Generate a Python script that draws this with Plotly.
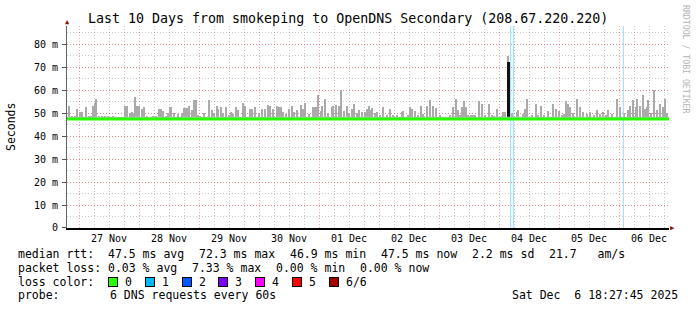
import numpy as np
import pandas as pd
import plotly.graph_objects as go

# ---------------- data ----------------
window_start = pd.Timestamp("2025-11-26 19:12")
step_minutes = 24          # one RRD step (24 min)
n_steps = 602              # 10 days window

median_rtt = 47.5          # ms, median line (loss 0)

# smoke (max of pings) samples: step index from window start, value in ms
smoke_step = [2, 5, 8, 10, 13, 15, 19, 22, 24, 26, 28, 29, 32, 35, 38, 41, 43, 46, 49, 52,
              55, 58, 60, 63, 65, 67, 68, 70, 72, 75, 77, 80, 83, 86, 89, 92, 94, 96, 99, 101,
              103, 104, 107, 111, 115, 117, 118, 120, 122, 125, 127, 129, 131, 133, 137, 142,
              145, 147, 150, 151, 154, 156, 159, 162, 164, 166, 169, 171, 176, 178, 183, 185,
              188, 192, 195, 198,
              201, 203, 206, 210, 211, 213, 214, 216, 219, 222, 225, 227, 230, 234, 236, 238,
              242, 246, 247, 249, 251, 254, 255, 258, 261, 265, 266, 269, 272, 274, 277, 280,
              282, 285, 287, 290, 292, 295, 298, 300,
              302, 304, 305, 308, 310, 313, 316, 320, 323, 326, 330, 335, 336, 341, 343, 345,
              348, 351, 354, 356, 360, 363, 366, 369, 373, 378, 383, 386, 389, 391, 393, 395,
              397, 399, 401,
              404, 406, 408, 412, 415, 418, 422, 425, 427, 430, 435, 436, 438, 441, 445, 450,
              451, 456, 458, 460, 465, 469, 471, 474, 477, 481, 486, 489, 492, 495, 497, 499, 501,
              503, 506, 510, 513, 516, 520, 523, 527, 530, 533, 536, 539, 541, 545, 550, 553,
              557, 561, 563, 566, 569, 570, 573, 576, 578, 580, 581, 584, 587, 590, 593, 596,
              598, 600]
smoke_max = [53, 49, 49, 52, 50.5, 50.5, 52.8, 49, 49, 53, 54.5, 56, 49, 49, 49, 49, 48.5, 49, 48.5, 48.5,
             48.5, 53, 53, 50, 50.6, 50, 57, 53, 53, 52, 52.5, 49, 48.5, 49, 49, 52, 52, 51, 49, 50,
             52.5, 52.5, 49.9, 49.6, 49.9, 52.3, 52.3, 52.3, 53, 51.6, 55.9, 55.9, 49.3, 49, 49.9, 55.9,
             51.6, 49.9, 53, 52, 52.5, 49.9, 52.5, 49.1, 50.6, 49.6, 52.5, 51.6, 54.5, 53, 52, 52,
             52.5, 49.9, 52, 52,
             53.5, 53, 52, 53, 52.5, 52.5, 52.5, 50.6, 49.6, 52, 53, 50.6, 51.3, 53.5, 52, 54.5,
             49.6, 52.5, 52.5, 52.5, 57.8, 51, 53, 56.4, 49.9, 52.5, 53, 53.5, 53, 60, 51, 53,
             49.9, 52, 54.2, 49.9, 51.6, 50.6, 50.6, 52,
             53, 51.6, 52.3, 50.1, 50.6, 49.1, 52.5, 49.1, 52, 49.4, 49.1, 50.6, 51, 49.1, 52.5, 52,
             51, 49.1, 53, 49.6, 53, 55.7, 53, 52.3, 49.1, 48.4, 49.1, 52.5, 56.1, 51.6, 49.1, 52.5,
             55.2, 52.5, 49.1,
             49.1, 49.1, 49.1, 55.4, 53.9, 49.1, 53.9, 49.1, 48.7, 52, 48.7, 50.6, 50.6, 75, 49.9, 50.6,
             51.6, 49.6, 52, 56.4, 49.1, 53.9, 49.1, 53, 49.1, 51, 53.9, 52, 51, 49.1, 49.6, 55.4, 53.9,
             52.7, 50, 56.4, 52.7, 50.6, 49.5, 50.6, 49.2, 51.3, 49.5, 50.6, 49.2, 51.3, 49.5, 56.4, 52.7,
             50, 51.3, 53, 55.7, 52.7, 56.4, 53, 57.8, 52, 52.7, 55.7, 50, 60, 51.3, 54.2, 52.5,
             56.4, 50]
smoke_floor = 48.5

spike_step = [441.5]       # median spike with 6/6 colour
spike_median = [72.3]

loss_step = [443.7, 446.3, 556.3]   # loss markers (colour "1")

y_tickvals = [0, 10, 20, 30, 40, 50, 60, 70, 80]
y_ticktext = ["0", "10 m", "20 m", "30 m", "40 m", "50 m", "60 m", "70 m", "80 m"]
y_min, y_max = -0.02, 88

loss_labels = ["0", "1", "2", "3", "4", "5", "6/6"]
loss_colors = ["#26ff00", "#00b8ff", "#0059ff", "#7e00ff", "#ff00ff", "#ff0000", "#a00000"]

line1_items = ["median rtt:  47.5 ms avg", "72.3 ms max", "46.9 ms min", "47.5 ms now",
               "2.2 ms sd", "21.7   am/s"]
line2_items = ["packet loss: 0.03 % avg", "7.33 % max", "0.00 % min", "0.00 % now"]
probe_text = "6 DNS requests every 60s"
stamp_text = "Sat Dec  6 18:27:45 2025"
title_text = "Last 10 Days from smokeping to OpenDNS Secondary (208.67.220.220)"

# ---------------- layout helpers ----------------
W, H = 697, 310
ML, MR, MT, MB = 67, 28, 26, 82
PW, PH = W - ML - MR, H - MT - MB
MONO = "DejaVu Sans Mono"


def px(xp):
    return (xp - ML) / PW


def py(yp):
    return (H - MB - yp) / PH


def t_of(steps):
    return window_start + pd.to_timedelta(np.asarray(steps, dtype=float) * step_minutes, unit="min")


t_end = window_start + pd.Timedelta(minutes=n_steps * step_minutes)
step_ms = step_minutes * 60 * 1000

fig = go.Figure()

# loss markers (full-height light lines)
lx, ly = [], []
for t in t_of(loss_step):
    lx += [t, t, None]
    ly += [0, y_max, None]
fig.add_trace(go.Scatter(x=lx, y=ly, mode="lines", line=dict(color="#9adaf6", width=1),
                         hoverinfo="skip"))

# thin smoke floor
fig.add_trace(go.Scatter(x=[window_start, t_end], y=[median_rtt, median_rtt], mode="lines",
                         line=dict(width=0), hoverinfo="skip"))
fig.add_trace(go.Scatter(x=[window_start, t_end], y=[smoke_floor, smoke_floor], mode="lines",
                         line=dict(width=0), fill="tonexty", fillcolor="#bdbdbd", hoverinfo="skip"))

# smoke bars
fig.add_trace(go.Bar(x=t_of(smoke_step), y=np.array(smoke_max) - median_rtt, base=median_rtt,
                     width=step_ms * 1.1, marker=dict(color="#aaaaaa", line=dict(width=0)),
                     hoverinfo="skip"))

# median line
fig.add_trace(go.Scatter(x=[window_start, t_end], y=[median_rtt, median_rtt], mode="lines",
                         line=dict(color=loss_colors[0], width=3), hoverinfo="skip"))

# median spike (6/6 loss colour rendered dark)
fig.add_trace(go.Bar(x=t_of(spike_step), y=np.array(spike_median) - median_rtt, base=median_rtt,
                     width=step_ms * 2.4, marker=dict(color="#111111", line=dict(width=0)),
                     hoverinfo="skip"))

ann = []
ann.append(dict(x=px(348), y=py(19), xref="paper", yref="paper", text=title_text,
                showarrow=False, font=dict(family=MONO, size=13.3, color="#000"),
                xanchor="center", yanchor="middle"))
ann.append(dict(x=px(11), y=py(127), xref="paper", yref="paper", text="Seconds",
                showarrow=False, textangle=-90, font=dict(family=MONO, size=11.5, color="#000"),
                xanchor="center", yanchor="middle"))
ann.append(dict(x=px(686), y=py(59), xref="paper", yref="paper", text="RRDTOOL / TOBI OETIKER",
                showarrow=False, textangle=90, font=dict(family=MONO, size=8.2, color="#b4b4b4"),
                xanchor="center", yanchor="middle"))
# axis arrowheads
ann.append(dict(x=px(67), y=py(22), xref="paper", yref="paper", text="▲", showarrow=False,
                font=dict(family=MONO, size=7, color="#8b1010"), xanchor="center", yanchor="middle"))
ann.append(dict(x=px(672), y=py(228), xref="paper", yref="paper", text="▶", showarrow=False,
                font=dict(family=MONO, size=7, color="#8b1010"), xanchor="center", yanchor="middle"))

CW = 6.94
GLUE = 14.5
LEG_FONT = dict(family=MONO, size=11.5, color="#000")


def place_line(items, yc):
    x0 = 16
    for it in items:
        ann.append(dict(x=px(x0), y=py(yc), xref="paper", yref="paper", text=it.replace(" ", "&nbsp;"),
                        showarrow=False, font=LEG_FONT, xanchor="left", yanchor="middle"))
        x0 += len(it) * CW + GLUE


place_line(line1_items, 254.5)
place_line(line2_items, 268)

ann.append(dict(x=px(16), y=py(281.5), xref="paper", yref="paper", text="loss&nbsp;color:",
                showarrow=False, font=LEG_FONT, xanchor="left", yanchor="middle"))
for i, (lab, col) in enumerate(zip(loss_labels, loss_colors)):
    sx = 108 + i * 36.8
    ann.append(dict(x=px(sx), y=py(281.5), xref="paper", yref="paper", text="&nbsp;",
                    showarrow=False, width=8, height=8, bgcolor=col, bordercolor="#000",
                    borderwidth=1, borderpad=0, font=dict(family=MONO, size=6),
                    xanchor="left", yanchor="middle"))
    ann.append(dict(x=px(sx + 15), y=py(281.5), xref="paper", yref="paper", text=lab,
                    showarrow=False, font=LEG_FONT, xanchor="left", yanchor="middle"))

ann.append(dict(x=px(16), y=py(295), xref="paper", yref="paper", text="probe:",
                showarrow=False, font=LEG_FONT, xanchor="left", yanchor="middle"))
ann.append(dict(x=px(108), y=py(295), xref="paper", yref="paper", text=probe_text.replace(" ", "&nbsp;"),
                showarrow=False, font=LEG_FONT, xanchor="left", yanchor="middle"))
ann.append(dict(x=px(680), y=py(295), xref="paper", yref="paper", text=stamp_text.replace(" ", "&nbsp;"),
                showarrow=False, font=LEG_FONT, xanchor="right", yanchor="middle"))

RED_GRID = "rgba(235,60,60,0.45)"
GRAY_GRID = "rgba(150,150,150,0.5)"

fig.update_layout(
    width=W, height=H,
    margin=dict(l=ML, r=MR, t=MT, b=MB, pad=0),
    paper_bgcolor="#ffffff", plot_bgcolor="#ffffff",
    showlegend=False, barmode="overlay", bargap=0,
    annotations=ann,
    xaxis=dict(
        type="date", range=[window_start, t_end],
        tick0="2025-11-27 00:00", dtick=86400000, tickformat="%d %b", ticklabelmode="period",
        showgrid=True, gridcolor=RED_GRID, griddash="1px,2px", gridwidth=1,
        minor=dict(dtick=6 * 3600000, showgrid=True, gridcolor=GRAY_GRID, griddash="1px,2px",
                   gridwidth=1),
        showline=True, linecolor="#000", linewidth=2, ticks="", zeroline=False,
        tickfont=dict(family=MONO, size=10, color="#000"), fixedrange=True,
    ),
    yaxis=dict(
        range=[y_min, y_max], tickvals=y_tickvals, ticktext=y_ticktext,
        showgrid=True, gridcolor=RED_GRID, griddash="1px,2px", gridwidth=1,
        minor=dict(dtick=5, tick0=0, showgrid=True, gridcolor=GRAY_GRID, griddash="1px,2px",
                   gridwidth=1),
        showline=True, linecolor="#666", linewidth=1, zeroline=False,
        ticks="outside", ticklen=4, tickcolor="#555", ticklabelstandoff=2,
        tickfont=dict(family=MONO, size=10, color="#000"), fixedrange=True,
    ),
)

fig.write_html("out.html", config={"displayModeBar": False, "staticPlot": True})
